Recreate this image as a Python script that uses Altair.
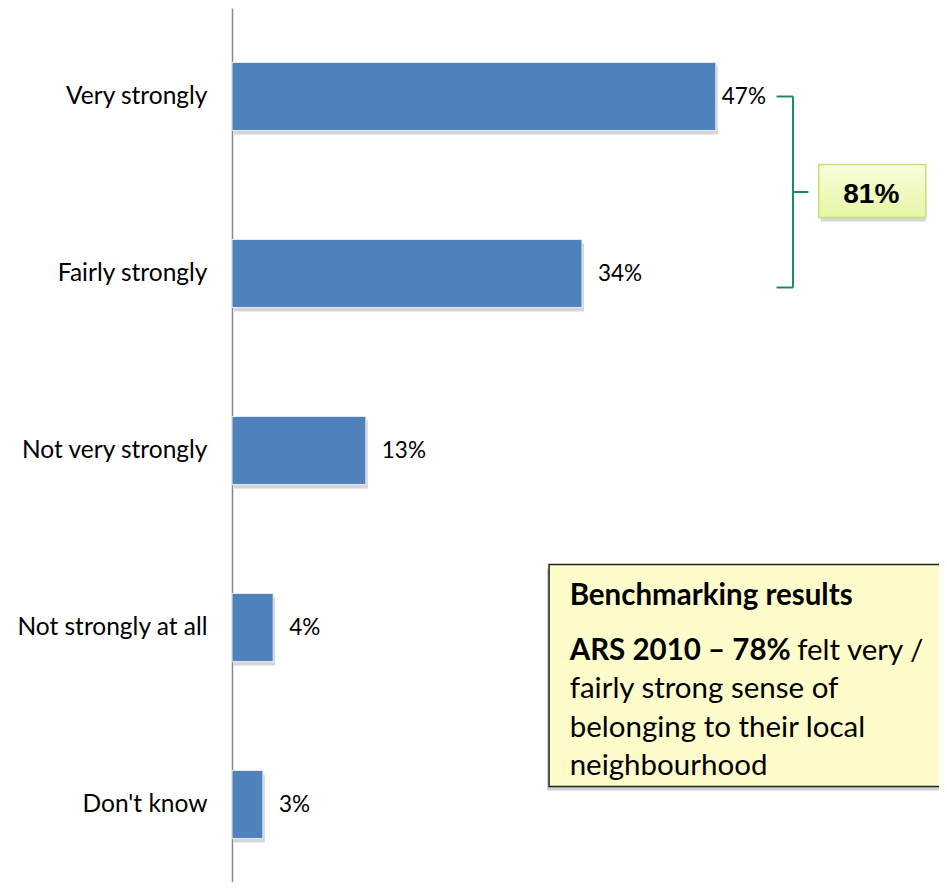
import altair as alt
import pandas as pd

# ---- data ----
categories = ["Very strongly", "Fairly strongly", "Not very strongly",
              "Not strongly at all", "Don't know"]
values = [47, 34, 13, 4, 3]
labels = ["47%", "34%", "13%", "4%", "3%"]

combined_label = "81%"
box_title = "Benchmarking results"
box_bold = "ARS 2010 \u2013 78%"
box_rest_first = "felt very /"
box_lines = ["fairly strong sense of", "belonging to their local", "neighbourhood"]

df = pd.DataFrame({"cat": categories, "value": values, "label": labels})
one = pd.DataFrame({"k": [0]})

FONT = "Lato"
BLUE = "#4F81BD"
GREEN = "#1B8A5E"

y_scale = alt.Scale(domain=categories, range=[0, 885],
                    paddingInner=0.616, paddingOuter=0.308)
x_scale = alt.Scale(domain=[0, 68], nice=False, zero=True)

Y = alt.Y("cat:N", scale=y_scale, sort=categories,
          axis=alt.Axis(title=None, domainColor="#888888", domainWidth=1.5,
                        ticks=False, grid=False, labelFont=FONT,
                        labelFontSize=24.5, labelColor="#000000",
                        labelPadding=25, labelLimit=300))
X = alt.X("value:Q", scale=x_scale, axis=None)

base = alt.Chart(df)

shadow = base.mark_bar(color="#888888", opacity=0.35, xOffset=2, yOffset=4).encode(x=X, y=Y)
bars = base.mark_bar(color=BLUE, stroke="#E4EAF2", strokeWidth=1).encode(x=X, y=Y)

txt_first = base.transform_filter(alt.datum.cat == categories[0]).mark_text(
    align="left", baseline="middle", dx=6, font=FONT, fontSize=22.5, color="#000000"
).encode(x=X, y=Y, text="label:N")
txt_rest = base.transform_filter(alt.datum.cat != categories[0]).mark_text(
    align="left", baseline="middle", dx=16, font=FONT, fontSize=22.5, color="#000000"
).encode(x=X, y=Y, text="label:N")

# ---- bracket ----
ann = alt.Chart(one)
br_vert = ann.mark_rule(color=GREEN, strokeWidth=2, y2Offset=14).encode(
    x=alt.datum(54.5), y=alt.datum(categories[0]), y2=alt.datum(categories[1]))
br_top = ann.mark_rule(color=GREEN, strokeWidth=2).encode(
    x=alt.datum(52.9), x2=alt.datum(54.5), y=alt.datum(categories[0]))
br_bot = ann.mark_rule(color=GREEN, strokeWidth=2, yOffset=14).encode(
    x=alt.datum(52.9), x2=alt.datum(54.5), y=alt.datum(categories[1]))
br_tip = ann.mark_rule(color=GREEN, strokeWidth=2, yOffset=95.5).encode(
    x=alt.datum(54.5), x2=alt.datum(56.0), y=alt.datum(categories[0]))

# ---- 81% box ----
box81_shadow = ann.mark_bar(size=53, yOffset=98.5, xOffset=2, color="#999999", opacity=0.4).encode(
    x=alt.datum(57.0), x2=alt.datum(67.4), y=alt.datum(categories[0]))
box81 = ann.mark_bar(size=53, yOffset=94.5, stroke="#C5E27A", strokeWidth=1.5,
                     fill=alt.Gradient(gradient="linear",
                                       stops=[alt.GradientStop(color="#F9FDDA", offset=0),
                                              alt.GradientStop(color="#E7F6A6", offset=1)],
                                       x1=0, x2=0, y1=0, y2=1)).encode(
    x=alt.datum(57.0), x2=alt.datum(67.4), y=alt.datum(categories[0]))
box81_text = ann.mark_text(align="center", baseline="middle", yOffset=98,
                           font="Liberation Sans", fontWeight="bold", fontSize=28,
                           color="#000000").encode(
    x=alt.datum(62.1), y=alt.datum(categories[0]), text=alt.value(combined_label))

# ---- benchmarking box ----
anchor = categories[3]
bm_shadow = ann.mark_bar(size=222, yOffset=52, xOffset=-2, color="#999999", opacity=0.45).encode(
    x=alt.datum(30.8), x2=alt.datum(72), y=alt.datum(anchor))
bm_box = ann.mark_bar(size=222, yOffset=48, fill="#FFFCCB", stroke="#222222", strokeWidth=1.5).encode(
    x=alt.datum(30.8), x2=alt.datum(72), y=alt.datum(anchor))

tx_left = 32.8
def line(text, off, bold=False, x=tx_left):
    return ann.mark_text(align="left", baseline="alphabetic", yOffset=off,
                         font=FONT, fontSize=29.5, fontWeight="bold" if bold else "normal",
                         color="#000000").encode(
        x=alt.datum(x), y=alt.datum(anchor), text=alt.value(text))

bm_texts = [
    line(box_title, -22.3, True),
    line(box_bold, 32, True),
    line(box_rest_first, 32, False, 54.9),
    line(box_lines[0], 70),
    line(box_lines[1], 109),
    line(box_lines[2], 147),
]

chart = alt.layer(
    shadow, bars, txt_first, txt_rest,
    br_vert, br_top, br_bot, br_tip,
    box81_shadow, box81, box81_text,
    bm_shadow, bm_box, *bm_texts
).properties(
    width=700, height=874,
    autosize=alt.AutoSizeParams(type="none"),
    padding={"left": 224, "top": 0, "right": 7, "bottom": 0},
).configure_view(stroke=None)

chart.save("out.html", embed_options={"renderer": "svg", "actions": False})
